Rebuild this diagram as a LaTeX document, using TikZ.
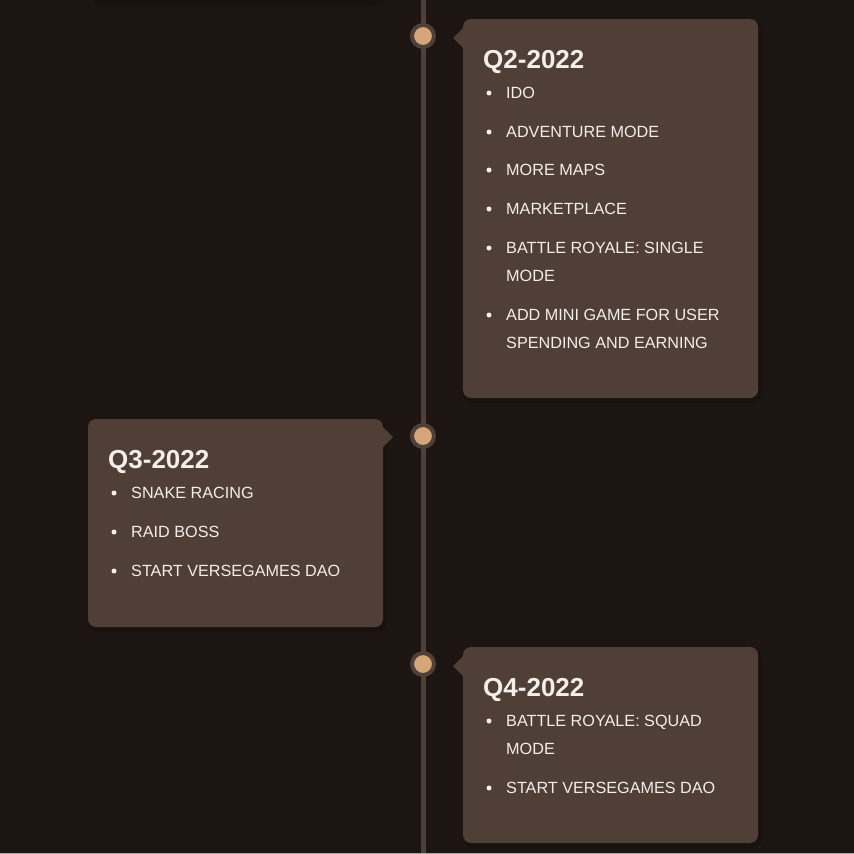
\documentclass[tikz,border=0pt]{standalone}
\usepackage{fontspec}
\setmainfont{Liberation Sans}
\definecolor{bgc}{HTML}{1C1512}
\definecolor{cardc}{HTML}{4F3F36}
\definecolor{linec}{HTML}{4F4037}
\definecolor{dotc}{HTML}{D4A67A}
\definecolor{txtc}{HTML}{F4EFEA}
\definecolor{shadc}{HTML}{140F0D}
\begin{document}
\begin{tikzpicture}[x=1pt,y=-1pt,
  card/.style={fill=cardc, rounded corners=8pt},
  softshadow/.style={fill=shadc, rounded corners=10pt, opacity=0.45},
  dotnode/.style={circle, fill=dotc, draw=linec, line width=4pt, minimum size=22pt, inner sep=0pt},
  title/.style={anchor=base west, text=txtc, font=\fontsize{26}{26}\selectfont\bfseries, inner sep=0pt},
  item/.style={anchor=base west, text=txtc, font=\fontsize{16.2}{28}\selectfont, inner sep=0pt},
  bul/.style={circle, fill=txtc, minimum size=5pt, inner sep=0pt}
]
\useasboundingbox (0,0) rectangle (854,854);
\fill[bgc] (0,0) rectangle (854,854);
% soft shadow of previous card at top
\fill[shadc, rounded corners=8pt, opacity=0.35] (92,-20) rectangle (384,6);
\fill[shadc, rounded corners=8pt, opacity=0.35] (97,-20) rectangle (379,3);
% timeline
\coordinate (ltop) at (423,0);
\coordinate (lbot) at (423,854);
\draw[linec, line width=5pt] (ltop) -- (lbot);
% cards
\fill[softshadow] (463,21) rectangle (762,403);
\fill[card] (463,19) rectangle (758,398);
\fill[cardc] (463,28) -- (453,38) -- (463,48) -- cycle;
\fill[softshadow] (88,421) rectangle (387,632);
\fill[card] (88,419) rectangle (383,627);
\fill[cardc] (383,427) -- (393,437) -- (383,447) -- cycle;
\fill[softshadow] (463,649) rectangle (762,848);
\fill[card] (463,647) rectangle (758,843);
\fill[cardc] (463,656) -- (453,666) -- (463,676) -- cycle;
% dots
\node[dotnode] (d1) at (423,36) {};
\node[dotnode] (d2) at (423,436) {};
\node[dotnode] (d3) at (423,664) {};
% Q2
\node[title] (t1) at (483,68) {Q2-2022};
\node[item] (a1) at (506,98) {IDO};
\node[item] (a2) at (506,137) {ADVENTURE MODE};
\node[item] (a3) at (506,175) {MORE MAPS};
\node[item] (a4) at (506,214) {MARKETPLACE};
\node[item] (a5) at (506,253) {BATTLE ROYALE: SINGLE};
\node[item] (a5b) at (506,281) {MODE};
\node[item] (a6) at (506,320) {ADD MINI GAME FOR USER};
\node[item] (a6b) at (506,348) {SPENDING AND EARNING};
\foreach \yy in {93,132,170,209,248,315} \node[bul] at (489,\yy) {};
% Q3
\node[title] (t2) at (108,468) {Q3-2022};
\node[item] (b1) at (131,498) {SNAKE RACING};
\node[item] (b2) at (131,537) {RAID BOSS};
\node[item] (b3) at (131,576) {START VERSEGAMES DAO};
\foreach \yy in {493,532,571} \node[bul] at (114,\yy) {};
% Q4
\node[title] (t3) at (483,696) {Q4-2022};
\node[item] (c1) at (506,726) {BATTLE ROYALE: SQUAD};
\node[item] (c1b) at (506,754) {MODE};
\node[item] (c2) at (506,793) {START VERSEGAMES DAO};
\foreach \yy in {721,788} \node[bul] at (489,\yy) {};
% bottom edge line
\fill[gray!70] (0,852.5) rectangle (854,854);
\end{tikzpicture}
\end{document}
